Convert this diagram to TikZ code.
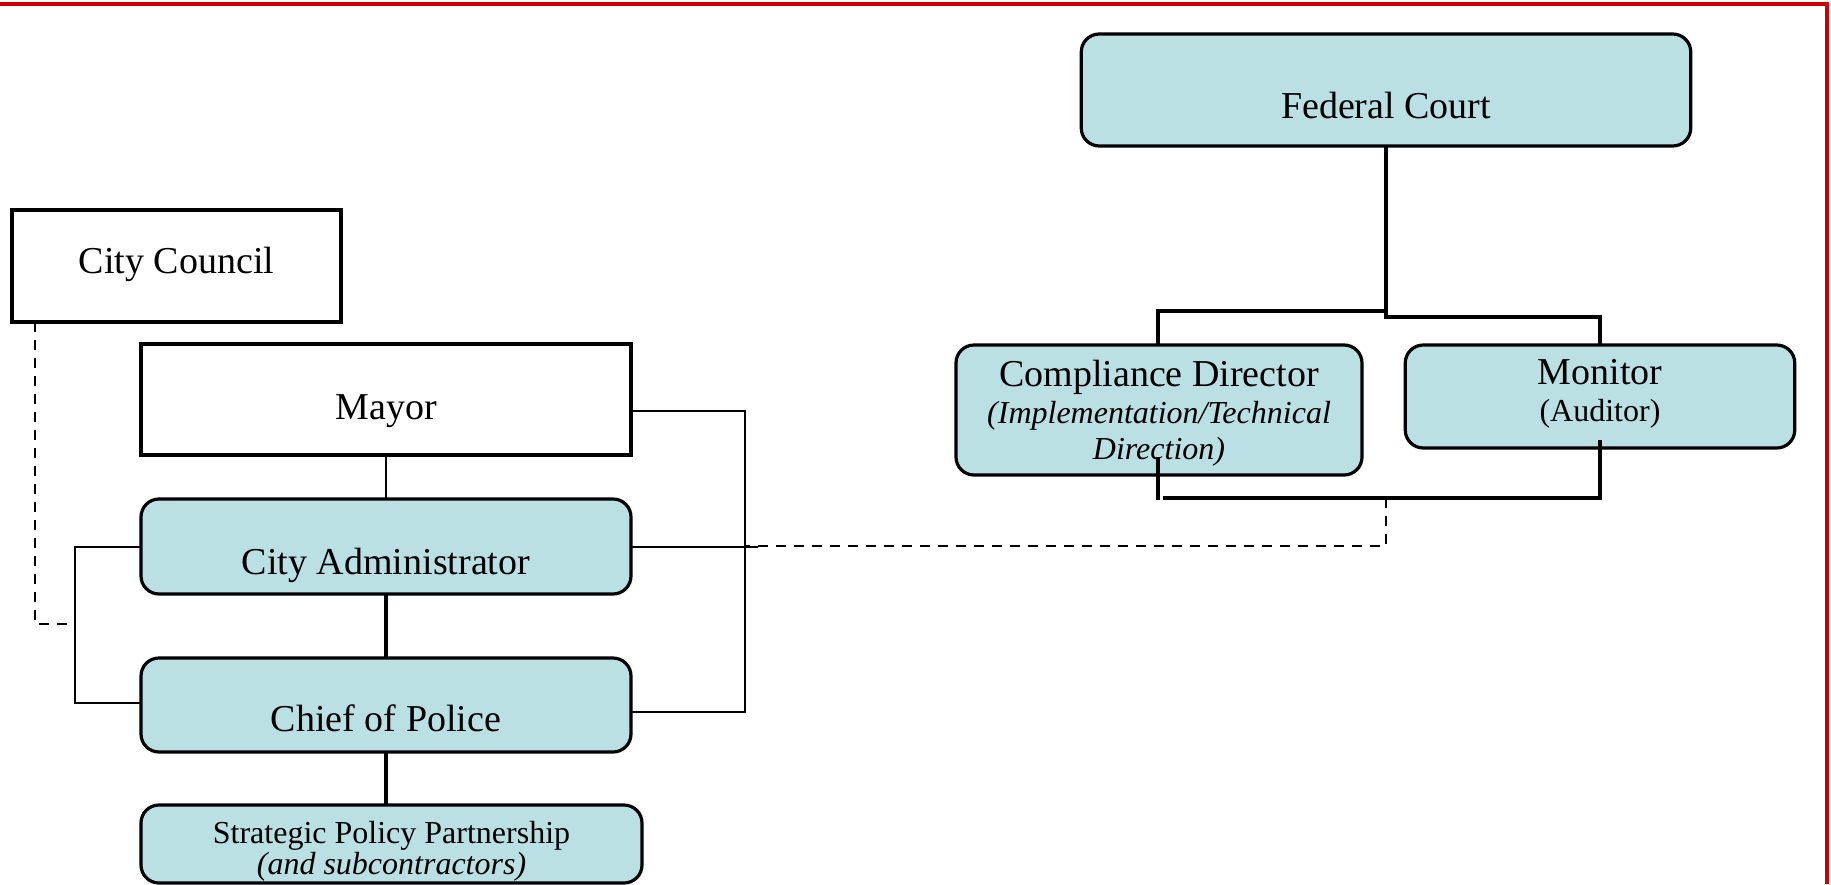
\documentclass[tikz,border=0pt]{standalone}
\usepackage{fontspec}
\setmainfont{Liberation Serif}
\definecolor{boxfill}{RGB}{186,224,227}
\definecolor{framered}{RGB}{204,0,0}
\begin{document}
\begin{tikzpicture}[x=0.5pt,y=-0.5pt,
  box/.style={draw, line width=1.6pt, inner sep=0pt, outer sep=0pt},
  sq/.style={box, fill=white},
  rbox/.style={box, fill=boxfill, rounded corners=9pt},
  big/.style={font=\fontsize{19}{22}\selectfont, anchor=base, inner sep=0pt},
  small/.style={font=\fontsize{16}{18}\selectfont, anchor=base, inner sep=0pt},
  thinline/.style={line width=1.2pt},
  heavy/.style={line width=1.8pt},
  dsh/.style={line width=1.2pt, dash pattern=on 5pt off 4pt}
]
\useasboundingbox (0,0) rectangle (1831,884);
\draw[framered, line width=1.6pt] (0,4) -- (1827,4) -- (1827,884);

% boxes
\node[sq, minimum width=329*0.5pt, minimum height=112*0.5pt] (cc) at (176.5,266) {};
\node[sq, minimum width=490*0.5pt, minimum height=111*0.5pt] (mayor) at (386,399.5) {};
\node[rbox, minimum width=490*0.5pt, minimum height=95*0.5pt] (ca) at (386,546.5) {};
\node[rbox, minimum width=490*0.5pt, minimum height=94*0.5pt] (chief) at (386,705) {};
\node[rbox, minimum width=501*0.5pt, minimum height=78*0.5pt] (spp) at (391.5,844) {};
\node[rbox, minimum width=609.5*0.5pt, minimum height=112*0.5pt] (fc) at (1386,90) {};
\node[rbox, minimum width=406*0.5pt, minimum height=130*0.5pt] (cd) at (1159,410) {};
\node[rbox, minimum width=389.5*0.5pt, minimum height=103*0.5pt] (mon) at (1600,396.5) {};

% texts
\node[big] (ccT) at (176.5,273) {City Council};
\node[big] (mayorT) at (386,419) {Mayor};
\node[big] (caT) at (386,574) {City Administrator};
\node[big] (chiefT) at (386,731) {Chief of Police};
\node[small] (sppT1) at (391.5,843) {Strategic Policy Partnership};
\node[small] (sppT2) at (391.5,874) {\itshape (and subcontractors)};
\node[big] (fcT) at (1386,118) {Federal Court};
\node[big] (cdT1) at (1159,386) {Compliance Director};
\node[small] (cdT2) at (1159,423) {\itshape (Implementation/Technical};
\node[small] (cdT3) at (1159,459) {\itshape Direction)};
\node[big] (monT1) at (1600,384) {Monitor};
\node[small] (monT2) at (1600,421) {(Auditor)};

% coordinates for bends
\coordinate (cdBar) at (1158,311);
\coordinate (mnBar) at (1600,317);
\coordinate (cdLow) at (1158,457);
\coordinate (cdLowEnd) at (1158,500);
\coordinate (lowBar) at (1163,498);
\coordinate (monLow) at (1600,440);
\coordinate (dashCorner) at (1386,546);
\coordinate (dashStart) at (745,546);
\coordinate (rbTop) at (745,411);
\coordinate (rbBot) at (745,712);
\coordinate (rbMid) at (758,547);
\coordinate (lbTop) at (75,547);
\coordinate (lbBot) at (75,703);
\coordinate (ccD) at (35,624);

% federal side
\draw[heavy] (fc.south) -- (fc.south |- mnBar) -- (mnBar) -- (mnBar |- mon.north);
\draw[heavy] (fc.south |- cdBar) -- (cdBar) -- (cdBar |- cd.north);
\draw[heavy] (cdLow) -- (cdLowEnd);
\draw[heavy] (lowBar) -- (lowBar -| monLow) -- (monLow);
\draw[dsh] (dashCorner |- lowBar) -- (dashCorner) -- (dashStart);

% city side
\draw[thinline] (mayor) -- (ca);
\draw[heavy] (ca) -- (chief);
\draw[heavy] (chief.south) -- (chief.south |- spp.north);
\draw[thinline] (rbTop -| mayor.east) -- (rbTop) -- (rbBot) -- (rbBot -| chief.east);
\draw[thinline] (rbMid -| ca.east) -- (rbMid);
\draw[thinline] (lbTop -| ca.west) -- (lbTop) -- (lbBot) -- (lbBot -| chief.west);
\draw[dsh] (ccD |- cc.south) -- (ccD) -- (ccD -| lbTop);
\end{tikzpicture}
\end{document}
